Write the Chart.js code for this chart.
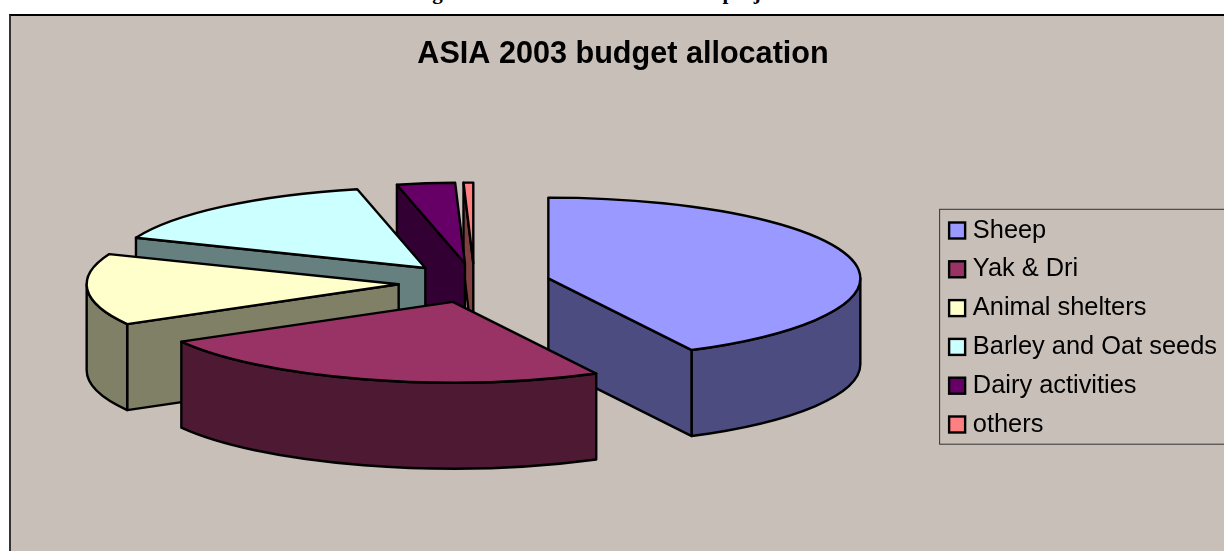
<!DOCTYPE html>
<html>
<head>
<meta charset="utf-8">
<title>ASIA 2003 budget allocation</title>
<script src="https://cdn.jsdelivr.net/npm/chart.js@4"></script>
<style>
  html, body { margin: 0; padding: 0; width: 1224px; height: 551px; overflow: hidden; background: #fff; }
  #heading { position: absolute; left: 395px; top: -20px; white-space: nowrap;
             font: bold 21px "Liberation Serif", serif; word-spacing: 1.5px; color: #000; }
  #frame { position: absolute; left: 9px; top: 14px; width: 1300px; height: 700px; background: #c8bfb9;
           border-left: 2px solid #333; border-top: 2px solid #000; }
  canvas { position: absolute; left: 0; top: 0; }
</style>
</head>
<body>
<div id="heading">Budget allocation of the ASIA 2003 projects</div>
<div id="frame"><canvas id="chart" width="1216" height="623"></canvas></div>
<script>
const categories = ['Sheep', 'Yak & Dri', 'Animal shelters', 'Barley and Oat seeds', 'Dairy activities', 'others'];
const shares = [42.4, 24.4, 14.3, 15.4, 3.0, 0.5];
const topColors = ['#9999ff', '#993366', '#ffffcc', '#ccffff', '#660066', '#ff8080'];
const sideColors = ['#4c4c80', '#4d1933', '#808066', '#668080', '#330033', '#804040'];

// Projection of the tilted, exploded pie (canvas coordinates)
const PIE_X = 463.5;
const PIE_Y = 267;
const PIE_RADIUS = 312;
const TILT = 81 / 313;
const DEPTH = 86;
const EXPLODE = 76;
const OUTLINE = 2.4;

function sliceGeometry(arc) {
  const mid = (arc.startAngle + arc.endAngle) / 2;
  return {
    a1: arc.startAngle,
    a2: arc.endAngle,
    ox: PIE_X + Math.cos(mid) * EXPLODE,
    oy: PIE_Y + Math.sin(mid) * EXPLODE * TILT,
    rx: arc.outerRadius,
    ry: arc.outerRadius * TILT
  };
}

function paintPath(ctx, fill) {
  ctx.fillStyle = fill;
  ctx.fill();
  ctx.stroke();
}

function drawCutFace(ctx, g, angle, fill) {
  const ex = g.ox + g.rx * Math.cos(angle);
  const ey = g.oy + g.ry * Math.sin(angle);
  ctx.beginPath();
  ctx.moveTo(g.ox, g.oy);
  ctx.lineTo(ex, ey);
  ctx.lineTo(ex, ey + DEPTH);
  ctx.lineTo(g.ox, g.oy + DEPTH);
  ctx.closePath();
  paintPath(ctx, fill);
}

function drawWalls(ctx, g, fill) {
  // Only the front half of the rim faces the viewer
  const lo = Math.max(g.a1, 0);
  const hi = Math.min(g.a2, Math.PI);
  if (Math.cos(g.a1) < 0) drawCutFace(ctx, g, g.a1, fill);
  if (Math.cos(g.a2) > 0) drawCutFace(ctx, g, g.a2, fill);
  if (hi > lo) {
    ctx.beginPath();
    ctx.ellipse(g.ox, g.oy, g.rx, g.ry, 0, lo, hi);
    ctx.ellipse(g.ox, g.oy + DEPTH, g.rx, g.ry, 0, hi, lo, true);
    ctx.closePath();
    paintPath(ctx, fill);
  }
}

const pie3d = {
  id: 'pie3d',
  beforeDraw(chart) {
    // Legend frame, open towards the right edge
    const boxes = chart.legend.legendHitBoxes;
    const ctx = chart.ctx;
    const first = boxes[0];
    const last = boxes[boxes.length - 1];
    ctx.save();
    ctx.strokeStyle = '#333';
    ctx.lineWidth = 1;
    ctx.strokeRect(first.left - 9.5, first.top - 8.5, 400, last.top + last.height - first.top + 15.5);
    ctx.restore();
  },
  beforeDatasetDraw(chart, args) {
    const ctx = chart.ctx;
    const arcs = args.meta.data.map((arc, i) => ({ arc, i, g: sliceGeometry(arc) }));
    arcs.sort((p, q) => p.g.oy - q.g.oy);
    ctx.save();
    ctx.strokeStyle = '#000';
    ctx.lineWidth = OUTLINE;
    ctx.lineJoin = 'round';
    for (const { arc, i, g } of arcs) {
      drawWalls(ctx, g, sideColors[i]);
      ctx.save();
      ctx.translate(g.ox, g.oy);
      ctx.scale(1, TILT);
      ctx.translate(-arc.x, -arc.y);
      arc.draw(ctx);
      ctx.restore();
      ctx.beginPath();
      ctx.moveTo(g.ox, g.oy);
      ctx.ellipse(g.ox, g.oy, g.rx, g.ry, 0, g.a1, g.a2);
      ctx.closePath();
      ctx.stroke();
    }
    ctx.restore();
    return false;
  },
  afterDraw(chart) {
    // Legend swatches sit closer to their labels than the built-in spacing allows
    const ctx = chart.ctx;
    ctx.save();
    ctx.strokeStyle = '#000';
    ctx.lineWidth = 2.4;
    chart.legend.legendHitBoxes.forEach((hit, i) => {
      const y = hit.top + hit.height / 2 - 8;
      ctx.fillStyle = topColors[i];
      ctx.fillRect(hit.left, y, 16, 16);
      ctx.strokeRect(hit.left, y, 16, 16);
    });
    ctx.restore();
  }
};

new Chart(document.getElementById('chart'), {
  type: 'pie',
  data: {
    labels: categories,
    datasets: [{
      data: shares,
      backgroundColor: topColors,
      borderWidth: 0,
      hoverOffset: 0
    }]
  },
  plugins: [pie3d],
  options: {
    responsive: false,
    animation: false,
    radius: PIE_RADIUS,
    layout: { padding: { left: 8, right: 0, top: 0, bottom: 0 } },
    plugins: {
      tooltip: { enabled: false },
      title: {
        display: true,
        text: 'ASIA 2003 budget allocation',
        color: '#000',
        font: { family: '"Liberation Sans", Arial, sans-serif', size: 30.6, weight: 'bold' },
        padding: { top: 20, bottom: 10 }
      },
      legend: {
        position: 'right',
        labels: {
          color: '#000',
          font: { family: '"Liberation Sans", Arial, sans-serif', size: 25.4 },
          boxWidth: 11,
          boxHeight: 16,
          padding: 13.4,
          generateLabels(chart) {
            return categories.map((text, index) => ({
              text, index, fillStyle: 'transparent', strokeStyle: 'transparent', lineWidth: 0
            }));
          }
        }
      }
    }
  }
});
</script>
</body>
</html>
